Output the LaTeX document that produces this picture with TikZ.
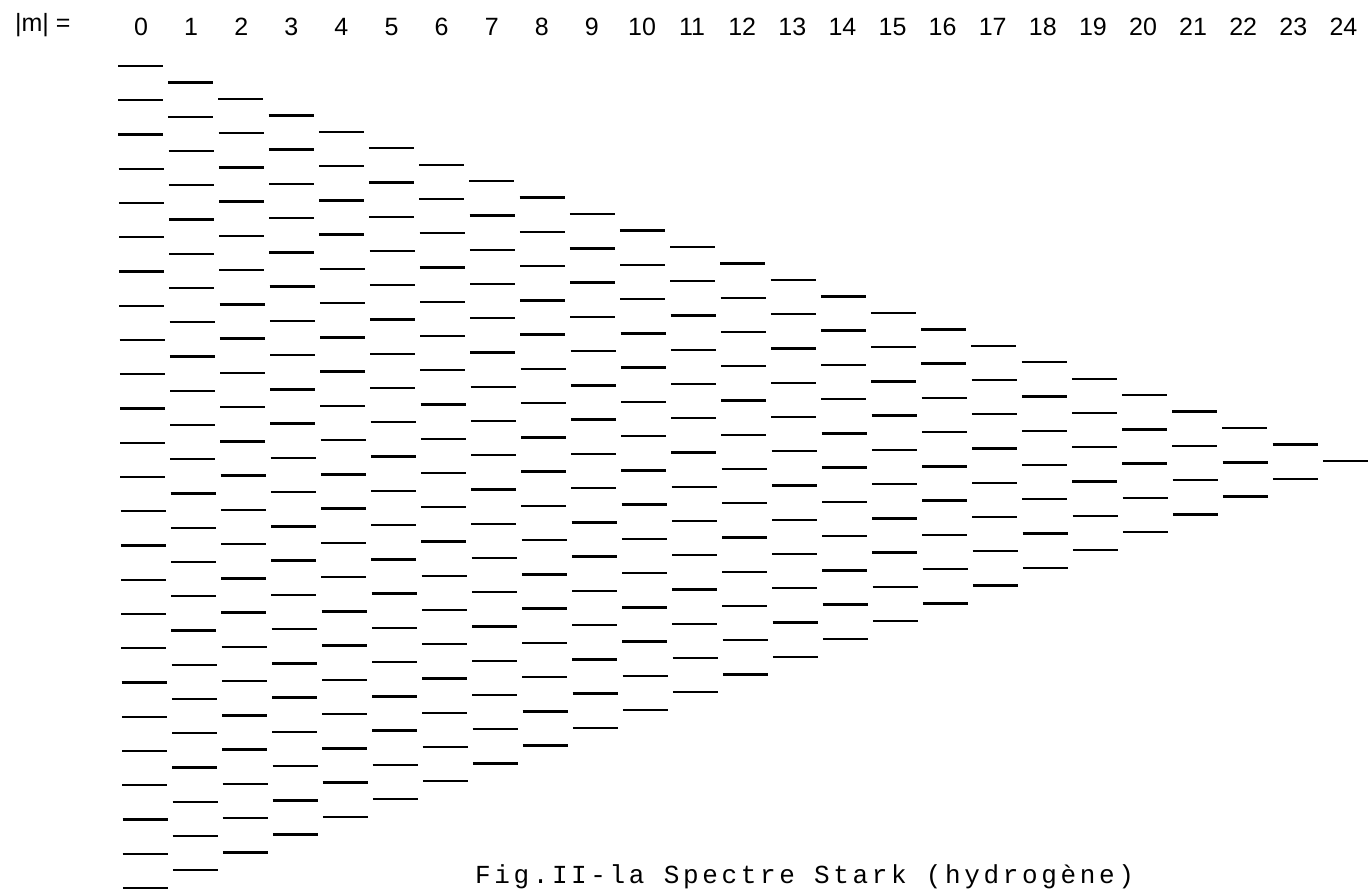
\documentclass[tikz,border=0pt]{standalone}
\usepackage{fontspec}
\setsansfont{Liberation Sans}
\newfontfamily\capfont[LetterSpace=14]{Liberation Mono}
\begin{document}
\begin{tikzpicture}[x=0.5pt,y=-0.5pt,
  level/.style={line width=1.2pt},
  mlabel/.style={font=\sffamily\fontsize{12.5}{14}\selectfont},
  figcap/.style={font=\capfont\fontsize{13}{15}\selectfont}]
\useasboundingbox (0,0) rectangle (1372,890);

\node[mlabel,anchor=west] (mhead) at (8,25) {|m| =};
\foreach \k in {0,...,24}
  \node[mlabel] (m\k) at (141+50.1*\k,27) {\k};

\foreach \k in {0,...,24}{
  \pgfmathtruncatemacro\nlev{24-\k}
  \foreach \j in {0,...,\nlev}{
    \pgfmathsetmacro\yy{66+(\k/2+\j)*34.25-0.667*\k}
    \pgfmathsetmacro\xx{118+50.1*\k+0.006*(\yy-66)}
    \draw[level] (\xx,\yy) -- ++(45,0);
  }
}

\node[figcap,anchor=base west] (fig) at (468,883) {Fig.II-la Spectre Stark (hydrogène)};
\end{tikzpicture}
\end{document}
